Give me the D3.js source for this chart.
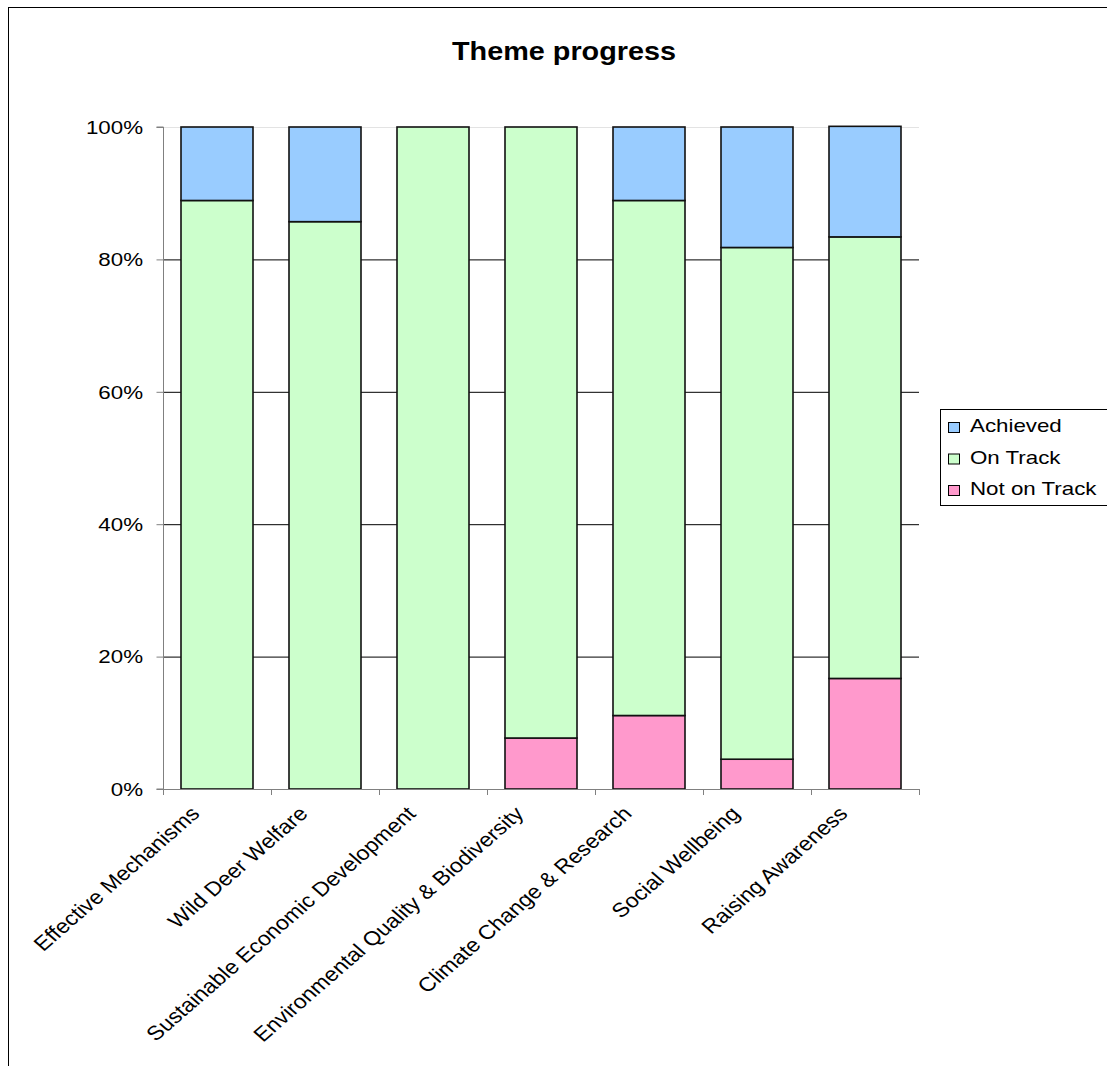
<!DOCTYPE html>
<html>
<head>
<meta charset="utf-8">
<script src="https://cdn.jsdelivr.net/npm/d3@7"></script>
<style>
  html, body { margin: 0; padding: 0; background: #fff; overflow: hidden; }
  svg { display: block; font-family: "Liberation Sans", Arial, sans-serif; }
</style>
</head>
<body>
<svg id="chart" width="1107" height="1066"></svg>
<script>
// Theme progress data (percent of actions per theme)
const categories = [
  'Effective Mechanisms',
  'Wild Deer Welfare',
  'Sustainable Economic Development',
  'Environmental Quality & Biodiversity',
  'Climate Change & Research',
  'Social Wellbeing',
  'Raising Awareness'
];
const notOnTrack = [0, 0, 0, 7.7, 11.1, 4.5, 16.7];
const onTrack    = [88.9, 85.7, 100, 92.3, 77.8, 77.3, 66.7];
const achieved   = [11.1, 14.3, 0, 0, 11.1, 18.2, 16.7];

const seriesNames = ['Not on Track', 'On Track', 'Achieved'];
const yTicks = [0, 20, 40, 60, 80, 100];

const COLOR = {
  'Achieved':     '#99ccff',
  'On Track':     '#ccffcc',
  'Not on Track': '#ff99cc'
};

const svg = d3.select('#chart');
const SX = 1.2; // the reference text is drawn a bit wide

// helper: horizontal text, stretched
function label(g, x, y, txt, opts = {}) {
  return g.append('text')
    .attr('transform', `translate(${x},${y}) scale(${opts.sx || SX},1)`)
    .attr('text-anchor', opts.anchor || 'start')
    .attr('font-size', opts.size || 18.6)
    .attr('font-weight', opts.weight || 'normal')
    .attr('fill', '#000')
    .text(txt);
}

// outer chart border
svg.append('rect')
  .attr('x', 8.5).attr('y', 7.5)
  .attr('width', 1120).attr('height', 1080)
  .attr('fill', 'none').attr('stroke', '#000').attr('stroke-width', 1);

// title
label(svg, 564, 60, 'Theme progress', { anchor: 'middle', size: 25.5, weight: 'bold', sx: 1.13 });

// ---- plot area ----
const P = { left: 163, right: 919, top: 127, bottom: 789 };

const x = d3.scaleBand()
  .domain(categories)
  .range([P.left, P.right])
  .paddingInner(1 / 3)
  .paddingOuter(1 / 6);

const y = d3.scaleLinear().domain([0, 100]).range([P.bottom, P.top]);

// gridlines
svg.append('g')
  .selectAll('line')
  .data(yTicks.filter(t => t > 0))
  .join('line')
  .attr('x1', P.left).attr('x2', P.right)
  .attr('y1', d => y(d) + 0.5).attr('y2', d => y(d) + 0.5)
  .attr('stroke', d => d === 100 ? '#e3e3e3' : '#000')
  .attr('stroke-width', 1);

// stacked bars
const rows = categories.map((c, i) => ({
  cat: c,
  'Not on Track': notOnTrack[i],
  'On Track': onTrack[i],
  'Achieved': achieved[i]
}));
const stacked = d3.stack().keys(seriesNames)(rows);

const barG = svg.append('g');
stacked.forEach(layer => {
  barG.append('g')
    .selectAll('rect')
    .data(layer.filter(d => d[1] - d[0] > 0))
    .join('rect')
    .attr('x', d => x(d.data.cat))
    .attr('width', x.bandwidth())
    .attr('y', d => y(d[1]))
    .attr('height', d => y(d[0]) - y(d[1]))
    .attr('fill', COLOR[layer.key])
    .attr('stroke', '#111')
    .attr('stroke-width', 1.6);
});

// y axis
const yAxis = svg.append('g')
  .attr('transform', `translate(${P.left + 0.5},0)`)
  .call(d3.axisLeft(y).tickValues(yTicks).tickSize(7).tickFormat(() => ''));
yAxis.select('.domain').attr('stroke', '#808080').attr('d', `M-7,${P.top}H0V${P.bottom}H-7`);
yAxis.selectAll('.tick line').attr('stroke', '#808080');
yTicks.forEach(t => label(svg, 143, y(t) + 6.7, t + '%', { anchor: 'end' }));

// x axis (ticks at category boundaries)
const step = x.step();
const bounds = d3.range(categories.length + 1).map(i => P.left + i * step);
const xAxis = svg.append('g');
xAxis.append('line')
  .attr('x1', P.left).attr('x2', P.right)
  .attr('y1', P.bottom + 0.5).attr('y2', P.bottom + 0.5)
  .attr('stroke', '#808080');
xAxis.selectAll('line.tk')
  .data(bounds)
  .join('line')
  .attr('class', 'tk')
  .attr('x1', d => Math.round(d) + 0.5).attr('x2', d => Math.round(d) + 0.5)
  .attr('y1', P.bottom).attr('y2', P.bottom + 6)
  .attr('stroke', '#808080');

// rotated category labels
svg.append('g')
  .selectAll('text')
  .data(categories)
  .join('text')
  .attr('transform', d => `translate(${x(d) + x.bandwidth() / 2 - 16},${P.bottom + 26}) scale(1.15,1) rotate(-45)`)
  .attr('text-anchor', 'end')
  .attr('font-size', 20)
  .attr('fill', '#000')
  .text(d => d);

// ---- legend ----
const lg = svg.append('g');
lg.append('rect')
  .attr('x', 940.5).attr('y', 409.5)
  .attr('width', 200).attr('height', 96)
  .attr('fill', '#fff').attr('stroke', '#000').attr('stroke-width', 1);

const legendItems = ['Achieved', 'On Track', 'Not on Track'];
legendItems.forEach((name, i) => {
  const by = 432 + i * 31.5;
  lg.append('rect')
    .attr('x', 948.5).attr('y', by - 9.5)
    .attr('width', 11).attr('height', 10)
    .attr('fill', COLOR[name]).attr('stroke', '#000').attr('stroke-width', 1);
  label(lg, 970, by, name);
});
</script>
</body>
</html>
